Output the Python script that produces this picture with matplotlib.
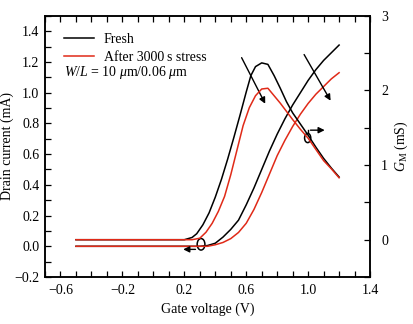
import matplotlib
matplotlib.use("Agg")
import matplotlib.pyplot as plt
from matplotlib.patches import Ellipse
from matplotlib.ticker import MultipleLocator, FixedLocator

plt.rcParams['font.family'] = ['Liberation Serif', 'DejaVu Serif']
plt.rcParams['mathtext.fontset'] = 'custom'
plt.rcParams['mathtext.rm'] = 'Liberation Serif'
plt.rcParams['mathtext.it'] = 'Liberation Serif:italic'

# Drain current (mA) versus gate voltage (V)
vg_id_fresh = [-0.5, 0.30, 0.35, 0.40, 0.45, 0.50, 0.55, 0.60, 0.65, 0.70, 0.75,
               0.80, 0.85, 0.90, 0.95, 1.00, 1.05, 1.10, 1.15, 1.20]
id_fresh = [0.0, 0.0, 0.005, 0.02, 0.06, 0.11, 0.17, 0.27, 0.38, 0.50, 0.62,
            0.73, 0.83, 0.92, 1.00, 1.08, 1.15, 1.21, 1.26, 1.31]
vg_id_stress = [-0.5, 0.35, 0.40, 0.45, 0.50, 0.55, 0.60, 0.65, 0.70, 0.75,
                0.80, 0.85, 0.90, 0.95, 1.00, 1.05, 1.10, 1.15, 1.20]
id_stress = [0.0, 0.0, 0.01, 0.025, 0.05, 0.09, 0.15, 0.24, 0.35, 0.47,
             0.59, 0.69, 0.78, 0.86, 0.93, 0.99, 1.04, 1.09, 1.13]

# Transconductance (mS) versus gate voltage (V)
vg_gm_fresh = [-0.5, 0.20, 0.25, 0.28, 0.32, 0.36, 0.40, 0.44, 0.48, 0.52, 0.56,
               0.60, 0.63, 0.66, 0.70, 0.74, 0.78, 0.82, 0.86, 0.90, 0.95,
               1.00, 1.05, 1.10, 1.15, 1.20]
gm_fresh = [0.0, 0.0, 0.03, 0.08, 0.20, 0.36, 0.57, 0.81, 1.08, 1.37, 1.67,
            1.98, 2.20, 2.32, 2.37, 2.35, 2.20, 2.03, 1.85, 1.70, 1.55,
            1.40, 1.24, 1.09, 0.96, 0.84]
vg_gm_stress = [-0.5, 0.25, 0.30, 0.34, 0.38, 0.42, 0.46, 0.50, 0.54, 0.58, 0.62,
                0.66, 0.70, 0.74, 0.78, 0.82, 0.86, 0.90, 0.95, 1.00, 1.05,
                1.10, 1.15, 1.20]
gm_stress = [0.0, 0.0, 0.02, 0.10, 0.22, 0.38, 0.58, 0.87, 1.20, 1.53, 1.77,
             1.93, 2.02, 2.03, 1.93, 1.83, 1.72, 1.61, 1.48, 1.36, 1.21,
             1.06, 0.95, 0.83]

x_ticks = [-0.6, -0.2, 0.2, 0.6, 1.0, 1.4]
labels = ["Fresh", "After 3000\u2009s stress"]
colors = ["black", "#e02a18"]

fig = plt.figure(figsize=(4.13, 3.24), dpi=100)
ax = fig.add_axes([0.109, 0.145, 0.787, 0.806])
ax2 = ax.twinx()

ax.plot(vg_id_fresh, id_fresh, color=colors[0], lw=1.1, label=labels[0])
ax.plot(vg_id_stress, id_stress, color=colors[1], lw=1.1, label=labels[1])
ax2.plot(vg_gm_fresh, gm_fresh, color=colors[0], lw=1.1)
ax2.plot(vg_gm_stress, gm_stress, color=colors[1], lw=1.1)

ax.set_xlim(-0.7, 1.4)
ax.set_ylim(-0.2, 1.5)
ax2.set_ylim(-0.5, 3.0)

ax.xaxis.set_major_locator(FixedLocator(x_ticks))
ax.xaxis.set_minor_locator(MultipleLocator(0.1))
ax.yaxis.set_major_locator(MultipleLocator(0.2))
ax.yaxis.set_minor_locator(MultipleLocator(0.1))
ax2.yaxis.set_major_locator(MultipleLocator(1))
ax2.yaxis.set_minor_locator(MultipleLocator(0.5))

fmt1 = plt.FuncFormatter(lambda v, p: f"{v:.1f}".replace("-", "\u2212"))
ax.xaxis.set_major_formatter(fmt1)
ax.yaxis.set_major_formatter(fmt1)
ax2.yaxis.set_major_formatter(plt.FuncFormatter(lambda v, p: f"{v:.0f}"))

ax.tick_params(axis='x', which='both', direction='in', top=True, labelsize=10,
               pad=5, length=4, width=0.9)
ax.tick_params(axis='y', which='both', direction='in', labelsize=10, pad=4,
               length=4, width=0.9)
ax2.tick_params(axis='y', which='both', direction='in', labelsize=10, pad=8,
                length=4, width=0.9)

for sp in list(ax.spines.values()) + list(ax2.spines.values()):
    sp.set_linewidth(1.1)

ax.set_xlabel("Gate voltage (V)", fontsize=10, labelpad=4)
ax.set_ylabel("Drain current (mA)", fontsize=10, labelpad=0)
ax2.set_ylabel(r"$G_{\mathrm{M}}$ (mS)", fontsize=10, labelpad=3)

leg = ax.legend(loc='upper left', bbox_to_anchor=(0.04, 0.955), frameon=False,
                fontsize=10, handlelength=2.2, handletextpad=0.7,
                labelspacing=0.35, borderaxespad=0.0)
ax.text(-0.58, 1.13, r"$W/L$ = 10 $\mu$m/0.06 $\mu$m", fontsize=10, va='center')

# Arrows marking the shift after stress
arrow_kw = dict(arrowstyle='-|>', color='black', lw=1.0, mutation_scale=9)
ax.annotate("", xy=(0.731, 0.912), xytext=(0.562, 1.244), arrowprops=arrow_kw)
ax.annotate("", xy=(1.154, 0.932), xytext=(0.965, 1.264), arrowprops=arrow_kw)

# Axis markers for the two families of curves
ax.add_patch(Ellipse((0.308, 0.013), 0.05, 0.075, fill=False, lw=1.1, ec='black'))
ax.annotate("", xy=(0.175, -0.02), xytext=(0.29, -0.02), arrowprops=arrow_kw)
ax.add_patch(Ellipse((0.997, 0.705), 0.04, 0.06, fill=False, lw=1.1, ec='black'))
ax.plot([0.997, 0.997], [0.735, 0.756], color='black', lw=1.0)
ax.annotate("", xy=(1.125, 0.756), xytext=(0.997, 0.756), arrowprops=arrow_kw)

fig.savefig("out.png", dpi=100)
